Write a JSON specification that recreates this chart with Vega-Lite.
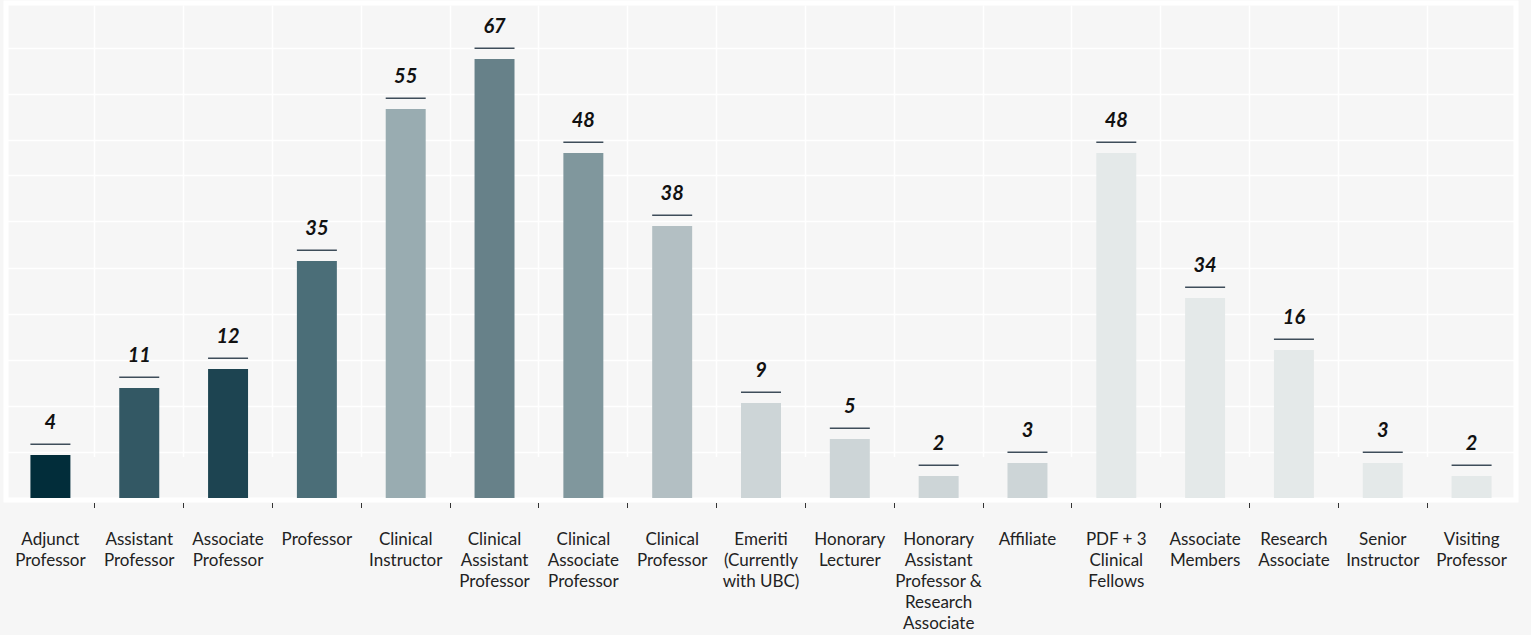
{
  "$schema": "https://vega.github.io/schema/vega-lite/v6.json",
  "width": 1510,
  "height": 497,
  "autosize": "none",
  "padding": {"left": 6, "top": 3, "right": 15, "bottom": 135},
  "background": "#f6f6f6",
  "view": {"fill": "#f6f6f6", "stroke": "#ffffff", "strokeWidth": 5},
  "data": {
    "values": [
      {"role": "Adjunct\nProfessor", "count": 4},
      {"role": "Assistant\nProfessor", "count": 11},
      {"role": "Associate\nProfessor", "count": 12},
      {"role": "Professor", "count": 35},
      {"role": "Clinical\nInstructor", "count": 55},
      {"role": "Clinical\nAssistant\nProfessor", "count": 67},
      {"role": "Clinical\nAssociate\nProfessor", "count": 48},
      {"role": "Clinical\nProfessor", "count": 38},
      {"role": "Emeriti\n(Currently\nwith UBC)", "count": 9},
      {"role": "Honorary\nLecturer", "count": 5},
      {"role": "Honorary\nAssistant\nProfessor &\nResearch\nAssociate", "count": 2},
      {"role": "Affiliate", "count": 3},
      {"role": "PDF + 3\nClinical\nFellows", "count": 48},
      {"role": "Associate\nMembers", "count": 34},
      {"role": "Research\nAssociate", "count": 16},
      {"role": "Senior\nInstructor", "count": 3},
      {"role": "Visiting\nProfessor", "count": 2}
    ]
  },
  "encoding": {
    "x": {
      "field": "role",
      "type": "nominal",
      "sort": null,
      "scale": {"paddingInner": 0, "paddingOuter": 0},
      "axis": {
        "title": null,
        "domain": false,
        "grid": true,
        "gridColor": "#ffffff",
        "gridWidth": 1.5,
        "bandPosition": 0,
        "ticks": true,
        "tickSize": 5,
        "tickWidth": 1,
        "tickColor": {"condition": {"test": "datum.index === 0", "value": "transparent"}, "value": "#333333"},
        "offset": 2.5,
        "labelAngle": 0,
        "labelFont": "Lato",
        "labelFontSize": 17,
        "labelColor": "#222222",
        "labelPadding": 24,
        "labelLineHeight": 21,
        "labelBaseline": "top",
        "labelAlign": "center",
        "labelLimit": 0,
        "labelExpr": "split(datum.value, '\\n')"
      }
    },
    "y": {
      "field": "count",
      "type": "quantitative",
      "scale": {
        "type": "linear",
        "nice": false,
        "zero": false,
        "domain": [0, 2, 3, 4, 5, 9, 11, 12, 16, 34, 35, 38, 48, 55, 67, 70],
        "range": [495, 473, 460, 452, 436, 400, 385, 366, 347, 295, 258, 223, 150, 106, 56, 43.5]
      },
      "axis": {
        "title": null,
        "labels": false,
        "ticks": false,
        "domain": false,
        "grid": true,
        "gridColor": "#ffffff",
        "gridWidth": 1.5,
        "values": [4.19, 8.67, 13.89, 28.46, 34.81, 38.68, 44.99, 50.07, 58.6, 69.71]
      }
    }
  },
  "layer": [
    {
      "mark": {"type": "bar", "width": {"band": 0.45}},
      "encoding": {
        "color": {
          "field": "role",
          "type": "nominal",
          "sort": null,
          "legend": null,
          "scale": {
            "domain": [
              "Adjunct\nProfessor", "Assistant\nProfessor", "Associate\nProfessor", "Professor",
              "Clinical\nInstructor", "Clinical\nAssistant\nProfessor", "Clinical\nAssociate\nProfessor",
              "Clinical\nProfessor", "Emeriti\n(Currently\nwith UBC)", "Honorary\nLecturer",
              "Honorary\nAssistant\nProfessor &\nResearch\nAssociate", "Affiliate", "PDF + 3\nClinical\nFellows",
              "Associate\nMembers", "Research\nAssociate", "Senior\nInstructor", "Visiting\nProfessor"
            ],
            "range": [
              "#022d3a", "#335864", "#1d4451", "#4b6e78",
              "#99acb1", "#678189", "#80979d", "#b3bfc3",
              "#cdd5d7", "#cdd5d7", "#cdd5d7", "#cdd5d7",
              "#e4e9e9", "#e4e9e9", "#e4e9e9", "#e4e9e9", "#e4e9e9"
            ]
          }
        }
      }
    },
    {
      "mark": {"type": "tick", "size": 40, "thickness": 1.5, "color": "#3e4d5a", "yOffset": -10.8, "opacity": 1}
    },
    {
      "mark": {"type": "text", "font": "Lato", "fontSize": 20, "fontWeight": "bold", "fontStyle": "italic", "baseline": "alphabetic", "dy": -26, "color": "#111111"},
      "encoding": {"text": {"field": "count", "type": "quantitative"}}
    }
  ]
}
